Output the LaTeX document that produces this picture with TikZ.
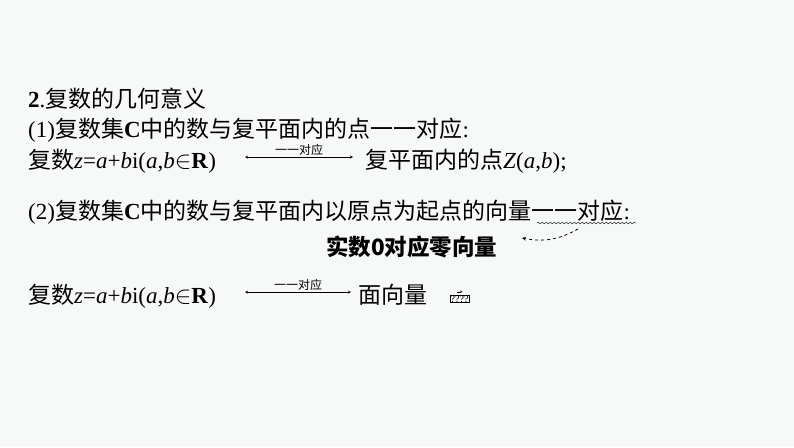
\documentclass[tikz,border=0pt]{standalone}
\usepackage{fontspec}
\setmainfont{Liberation Serif}
\newfontfamily\cjk{Noto Sans CJK SC}
\usetikzlibrary{calc,decorations.pathmorphing}
\definecolor{bgcol}{HTML}{F7F9F8}
\newcommand{\vi}[1]{\textit{#1}}
\begin{document}
\begin{tikzpicture}[x=1pt,y=-1pt,
  line/.style={anchor=base west, inner sep=0, font=\fontsize{23}{23}\selectfont},
  tag/.style={font=\cjk\fontsize{12}{12}\selectfont, inner sep=1pt},
  link/.style={<->, >=stealth, thin}]
  \fill[bgcol] (0,0) rectangle (794,447);
  \useasboundingbox (0,0) rectangle (794,447);

  \node[line] (l1) at (28,107) {\textbf{2}.{\cjk 复数的几何意义}};
  \node[line] (l2) at (28,137) {(1){\cjk 复数集}\textbf{C}{\cjk 中的数与复平面内的点一一对应}:};
  \node[line] (l3a) at (28,168) {{\cjk 复数}\vi{z}=\vi{a}+\vi{b}i(\vi{a},\vi{b}$\in$\textbf{R})};
  \node[line] (l3b) at (365,168) {{\cjk 复平面内的点}\vi{Z}(\vi{a},\vi{b});};
  \node[line] (l4) at (28,219) {(2){\cjk 复数集}\textbf{C}{\cjk 中的数与复平面内以原点为起点的向量一一对应}:};
  \node[line, font=\cjk\bfseries\fontsize{22.5}{22.5}\selectfont] (bold) at (326,255) {实数0对应零向量};
  \node[line] (l6a) at (28,303) {{\cjk 复数}\vi{z}=\vi{a}+\vi{b}i(\vi{a},\vi{b}$\in$\textbf{R})};
  \node[line] (l6b) at (358,303) {{\cjk 面向量}};
  \node[draw, inner sep=0.5pt, font=\fontsize{10}{10}\selectfont, anchor=base west] (box) at (450,302) {????};
  \draw[->, >=stealth, very thin] ($(box.north)+(-3,-3)$) -- ++(6,0);

  \coordinate (a3l) at (245,157);
  \coordinate (a3r) at (353,157);
  \draw[link] (a3l) -- (a3r) node[tag, midway, above] {一一对应};
  \coordinate (a6l) at (245,292);
  \coordinate (a6r) at (351,292);
  \draw[link] (a6l) -- (a6r) node[tag, midway, above] {一一对应};

  % wavy underline and remark arrow
  \draw[decorate, decoration={snake, amplitude=0.8pt, segment length=4pt}, thin]
    (537,223) -- (636,223);
  \coordinate (dfrom) at (578,229);
  \coordinate (dto) at (522,238);
  \draw[dashed, ->, >=stealth, thick] (dfrom) to[bend left=20] (dto);
\end{tikzpicture}
\end{document}
